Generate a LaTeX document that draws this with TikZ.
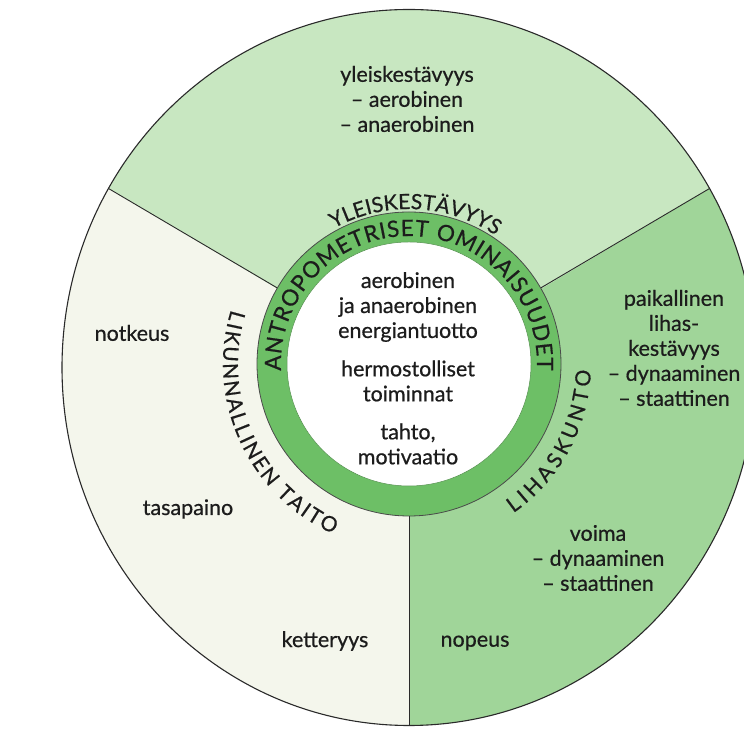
\documentclass[tikz,border=0pt]{standalone}
\usepackage{fontspec}
\setmainfont{Lato}
\newfontfamily\dfont{Lato}[FakeBold=0.6]
\usetikzlibrary{decorations.text,calc}
\definecolor{secTop}{HTML}{C8E7C1}
\definecolor{secRight}{HTML}{A0D599}
\definecolor{secLeft}{HTML}{F4F6EC}
\definecolor{ringG}{HTML}{6DBF66}
\definecolor{lineC}{HTML}{2A2A2A}
\definecolor{txtC}{HTML}{1C1C1C}
\newcommand{\ringfont}{\dfont\fontsize{22.5}{22.5}\selectfont}
\newcommand{\arcfont}{\dfont\fontsize{21}{21}\selectfont}
\begin{document}
\begin{tikzpicture}[x=1pt,y=1pt,
  lbl/.style={align=center, font=\dfont\fontsize{21.5}{25}\selectfont, text=txtC, inner sep=0pt},
  divline/.style={draw=lineC, line width=0.9pt},
  arctext/.style={decorate, decoration={text along path, text align=fit to path, text color=txtC}},
]
\useasboundingbox (0,0) rectangle (744,744);
\fill[white] (0,0) rectangle (744,744);
\coordinate (O) at (409,376.5);
\coordinate (C) at (409,380);
% sectors
\fill[secTop] (O) -- ($(O)+(30:347 and 358)$) arc[start angle=30, end angle=150, x radius=347, y radius=358] -- cycle;
\fill[secRight] (O) -- ($(O)+(-90:347 and 358)$) arc[start angle=-90, end angle=30, x radius=347, y radius=358] -- cycle;
\fill[secLeft] (O) -- ($(O)+(150:347 and 358)$) arc[start angle=150, end angle=270, x radius=347, y radius=358] -- cycle;
\draw[lineC, line width=1.1pt] (O) ellipse[x radius=347, y radius=358];
% divider lines
\coordinate (e1) at ($(O)+(30:347 and 358)$);
\coordinate (e2) at ($(O)+(150:347 and 358)$);
\coordinate (e3) at ($(O)+(270:347 and 358)$);
\coordinate (r1) at ($(C)+(30:152)$);
\coordinate (r2) at ($(C)+(150:152)$);
\coordinate (r3) at ($(C)+(270:152)$);
\draw[divline] (e1) -- (r1);
\draw[divline] (e2) -- (r2);
\draw[divline] (e3) -- (r3);
% ring
\fill[ringG] (C) circle[radius=152];
\fill[white] (C) circle[radius=122];
\draw[lineC!85, line width=0.8pt] (C) circle[radius=152];
\draw[ringG!75!black, line width=0.5pt] (C) circle[radius=122];
% curved texts
\path[arctext, decoration={text={|\ringfont|ANTROPOMETRISET OMINAISUUDET}}]
  ($(C)+(183:128)$) arc[start angle=183, end angle=-3, radius=128];
\path[arctext, decoration={text={|\arcfont|YLEISKESTÄVYYS}}]
  ($(C)+(119:155)$) arc[start angle=119, end angle=56, radius=155];
\path[arctext, decoration={text={|\arcfont|LIKUNNALLINEN TAITO}}]
  ($(C)+(163:186)$) arc[start angle=163, end angle=246, radius=186];
\path[arctext, decoration={text={|\arcfont|LIHASKUNTO}}]
  ($(C)+(-55:182)$) arc[start angle=-55, end angle=-2, radius=182];
% labels
\node[lbl] (yk) at (407,645) {yleiskestävyys\\– aerobinen\\– anaerobinen};
\node[lbl] (pk) at (674,396) {paikallinen\\lihas-\\kestävyys\\– dynaaminen\\– staattinen};
\node[lbl] (vo) at (598,186) {voima\\– dynaaminen\\– staattinen};
\node[lbl] (np) at (475,101) {nopeus};
\node[lbl] (kt) at (325,103) {ketteryys};
\node[lbl] (ts) at (188,235) {tasapaino};
\node[lbl] (nk) at (132,411) {notkeus};
\node[lbl] (en) at (408,437) {aerobinen\\ja anaerobinen\\energiantuotto};
\node[lbl] (hm) at (408,363) {hermostolliset\\toiminnat};
\node[lbl] (tm) at (408,300) {tahto,\\motivaatio};
\end{tikzpicture}
\end{document}
